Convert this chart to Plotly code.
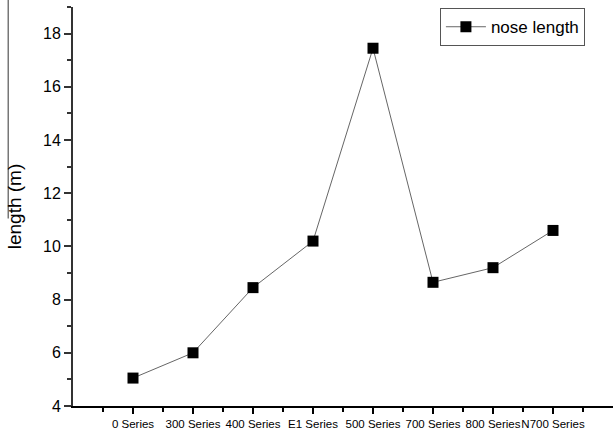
import plotly.graph_objects as go

categories = ["0 Series", "300 Series", "400 Series", "E1 Series", "500 Series",
              "700 Series", "800 Series", "N700 Series"]
nose_length = [5.05, 6.0, 8.45, 10.2, 17.45, 8.65, 9.2, 10.6]
y_ticks = [4, 6, 8, 10, 12, 14, 16, 18]

xpos = list(range(len(categories)))

fig = go.Figure()
fig.add_trace(go.Scatter(
    x=xpos, y=nose_length, name="nose length", mode="lines+markers",
    line=dict(color="#666666", width=1),
    marker=dict(symbol="square", size=11, color="black"),
))

font = "Liberation Sans, Arial, sans-serif"
fig.update_layout(
    width=614, height=434,
    margin=dict(l=73, r=1, t=7, b=28, autoexpand=False),
    paper_bgcolor="white", plot_bgcolor="white",
    font=dict(family=font, color="black"),
    showlegend=True,
    legend=dict(x=0.948, y=0.997, xanchor="right", yanchor="top",
                bordercolor="#555555", borderwidth=1, bgcolor="white",
                font=dict(size=17, family=font), itemwidth=40,
                tracegroupgap=0),
    xaxis=dict(range=[-1, 8], tickvals=xpos, ticktext=categories,
               showgrid=False, zeroline=False, showline=True,
               linecolor="black", linewidth=1.5, tickangle=0, automargin=False,
               ticks="outside", ticklen=6, tickwidth=1.5, tickcolor="black",
               tickfont=dict(size=11.5, family=font),
               minor=dict(tickvals=[-0.5 + i for i in range(10)], ticks="outside",
                          ticklen=4, tickwidth=1.5, tickcolor="black")),
    yaxis=dict(range=[4, 19], tickvals=y_ticks, automargin=False,
               showgrid=False, zeroline=False, showline=True,
               linecolor="#333333", linewidth=2,
               ticks="outside", ticklen=7, tickwidth=1.5, tickcolor="#333333",
               tickfont=dict(size=16, family=font),
               title=dict(text="length (m)", font=dict(size=19, family=font), standoff=16),
               minor=dict(dtick=1, ticks="outside", ticklen=4, tickwidth=1.5,
                          tickcolor="#333333")),
)

fig.add_shape(type="line", xref="paper", yref="paper",
              x0=-0.12, x1=-0.12, y0=0.47, y1=1.05,
              line=dict(color="#555555", width=1.2))

fig.write_html("out.html")
